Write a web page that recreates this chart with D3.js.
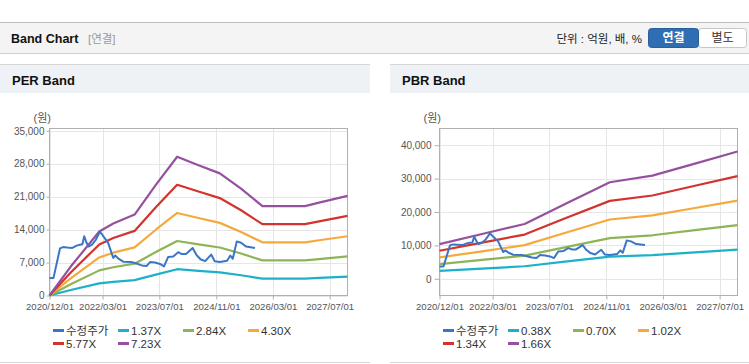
<!DOCTYPE html>
<html>
<head>
<meta charset="utf-8">
<script src="https://cdn.jsdelivr.net/npm/d3@7"></script>
<style>
body { margin: 0; background: #fff; }
svg text { font-family: "Liberation Sans", "Noto Sans CJK KR", sans-serif; }
</style>
</head>
<body>
<svg id="chart" width="749" height="364"></svg>
<script>
// adjusted share price (수정주가), same series in both charts
var priceDates = ["2020-12-01","2021-01-04","2021-03-01","2021-03-28","2021-05-01","2021-06-15","2021-07-22",
  "2021-08-18","2021-09-09","2021-09-25","2021-10-15","2021-11-01","2021-12-01","2022-01-01","2022-02-07",
  "2022-03-10","2022-04-18","2022-05-15","2022-06-01","2022-06-18","2022-07-12","2022-08-25","2022-11-07",
  "2022-12-04","2023-02-01","2023-03-13","2023-04-12","2023-05-25","2023-07-07","2023-08-10","2023-09-15",
  "2023-10-28","2023-12-10","2024-01-10","2024-02-15","2024-04-12","2024-05-15","2024-06-18","2024-07-28",
  "2024-09-18","2024-10-18","2024-12-01","2025-02-01","2025-03-01","2025-03-22","2025-04-25","2025-06-01",
  "2025-07-15","2025-09-28"]
var priceValues = [3700,3700,10000,10300,10200,10100,10600,
  10800,10900,12600,11200,10400,10800,11800,13600,
  12500,11200,9200,8000,8500,7900,7200,7100,
  6900,6400,6250,7100,7000,6700,6200,8200,
  8300,9200,8800,8800,10100,8600,7700,7300,
  8700,7300,7100,7400,8500,7800,11500,11200,
  10400,10100]

// PER band
var perDates = ["2020-12-01","2021-06-01","2022-02-01","2022-06-01","2022-12-01","2023-06-01","2023-12-01",
  "2024-06-01","2024-12-01","2025-06-01","2025-12-01","2026-12-01","2027-04-01","2027-12-01"]
var perLabels = ["1.37X","2.84X","4.30X","5.77X","7.23X"]
var per137 = [0,1170,2580,2900,3260,4450,5590,5250,4920,4300,3600,3600,3740,4010]
var per284 = [0,2410,5340,6010,6760,9230,11590,10880,10200,8920,7460,7460,7750,8320]
var per430 = [0,3660,8090,9100,10230,13980,17540,16470,15440,13500,11300,11300,11740,12600]
var per577 = [0,4900,10850,12210,13730,18750,23540,22100,20710,18120,15160,15160,15750,16910]
var per723 = [0,6150,13600,15300,17200,23500,29500,27690,25960,22700,19000,19000,19740,21180]
var perTicks = [0,7000,14000,21000,28000,35000]

// PBR band
var pbrDates = ["2020-12-01","2021-12-01","2022-12-01","2023-12-01","2024-12-01","2025-12-01","2026-12-01","2027-12-01"]
var pbrLabels = ["0.38X","0.70X","1.02X","1.34X","1.66X"]
var pbr038 = [2380,3070,3750,5200,6620,7070,7900,8720]
var pbr070 = [4390,5650,6920,9570,12190,13030,14550,16070]
var pbr102 = [6390,8230,10080,13950,17760,18990,21200,23410]
var pbr134 = [8400,10820,13240,18330,23330,24940,27850,30750]
var pbr166 = [10400,13400,16400,22700,28900,30900,34500,38100]
var pbrTicks = [0,10000,20000,30000,40000]

var xTickDates = ["2020-12-01","2022-03-01","2023-07-01","2024-11-01","2026-03-01","2027-07-01"]
var priceLabel = "수정주가"
var colors = ["#3b76c6","#1db1c9","#8db456","#f4aa3b","#d2332e","#95519d"]

var parse = d3.timeParse("%Y-%m-%d")
var fmtDate = d3.timeFormat("%Y/%m/%d")
var svg = d3.select("#chart")

// top bar
svg.append("rect").attr("x", 0).attr("y", 22).attr("width", 749).attr("height", 31).attr("fill", "#f4f4f4")
svg.append("line").attr("x1", 0).attr("x2", 749).attr("y1", 22.5).attr("y2", 22.5).attr("stroke", "#bdbdbd")
svg.append("line").attr("x1", 0).attr("x2", 749).attr("y1", 53.5).attr("y2", 53.5).attr("stroke", "#cfcfcf")
svg.append("text").attr("x", 11).attr("y", 43).attr("font-size", 12.5).attr("font-weight", "bold")
  .attr("fill", "#111").text("Band Chart")
svg.append("text").attr("x", 88).attr("y", 43).attr("font-size", 11.5).attr("fill", "#999").text("[연결]")
svg.append("text").attr("x", 642).attr("y", 43).attr("font-size", 11.5).attr("fill", "#222")
  .attr("text-anchor", "end").text("단위 : 억원, 배, %")
svg.append("rect").attr("x", 698.5).attr("y", 28.5).attr("width", 48).attr("height", 19).attr("rx", 3)
  .attr("fill", "#fff").attr("stroke", "#c6c6c6")
svg.append("rect").attr("x", 648.5).attr("y", 28.5).attr("width", 50).attr("height", 19).attr("rx", 3)
  .attr("fill", "#2f6eb3").attr("stroke", "#295f9b")
svg.append("text").attr("x", 673.5).attr("y", 42).attr("font-size", 12).attr("font-weight", "bold")
  .attr("fill", "#fff").attr("text-anchor", "middle").text("연결")
svg.append("text").attr("x", 722.5).attr("y", 42).attr("font-size", 12)
  .attr("fill", "#333").attr("text-anchor", "middle").text("별도")

function drawBand(panel) {
  var g = svg.append("g")

  // panel frame
  g.append("rect").attr("x", panel.px).attr("y", 64).attr("width", panel.pw).attr("height", 29).attr("fill", "#eef1f6")
  g.append("line").attr("x1", panel.px).attr("x2", panel.px + panel.pw).attr("y1", 64.5).attr("y2", 64.5).attr("stroke", "#d6d6d6")
  g.append("line").attr("x1", panel.px).attr("x2", panel.px + panel.pw).attr("y1", 362.5).attr("y2", 362.5).attr("stroke", "#d6d6d6")
  g.append("text").attr("x", panel.px + 12).attr("y", 85).attr("font-size", 13).attr("font-weight", "bold")
    .attr("fill", "#111").text(panel.title)

  var x = d3.scaleTime().domain([parse("2020-12-01"), parse("2027-12-01")]).range([panel.left, panel.left + 298])
  var y = d3.scaleLinear().domain(panel.yDomain).range([295.5, 128.5])

  // grid
  g.append("g").selectAll("line").data(panel.yTicks).join("line")
    .attr("x1", x.range()[0]).attr("x2", x.range()[1])
    .attr("y1", function(d){ return Math.round(y(d)) + 0.5 }).attr("y2", function(d){ return Math.round(y(d)) + 0.5 })
    .attr("stroke", "#e6e6e6")
  g.append("g").selectAll("line").data(xTickDates).join("line")
    .attr("x1", function(d){ return Math.round(x(parse(d))) + 0.5 }).attr("x2", function(d){ return Math.round(x(parse(d))) + 0.5 })
    .attr("y1", y.range()[1]).attr("y2", y.range()[0])
    .attr("stroke", "#e6e6e6")

  // axes
  var yAxis = g.append("g").attr("transform", "translate(" + panel.left + ",0)")
    .call(d3.axisLeft(y).tickValues(panel.yTicks).tickSize(panel.tick).tickPadding(panel.pad).tickFormat(d3.format(",")))
  var xAxis = g.append("g").attr("transform", "translate(0,295.5)")
    .call(d3.axisBottom(x).tickValues(xTickDates.map(parse)).tickSize(4).tickPadding(4).tickFormat(fmtDate))
  yAxis.select(".domain").remove()
  xAxis.select(".domain").remove()
  yAxis.selectAll("line").attr("stroke", "#b0b0b0")
  xAxis.selectAll("line").attr("stroke", "#b0b0b0")
  yAxis.selectAll("text").attr("font-size", 10).attr("fill", "#555")
  xAxis.selectAll("text").attr("font-size", 9.6).attr("fill", "#555")

  g.append("rect").attr("x", panel.left).attr("y", 128.5).attr("width", 298).attr("height", 167)
    .attr("fill", "none").attr("stroke", "#b0b0b0")
  g.append("text").attr("x", panel.left - 16).attr("y", 122).attr("font-size", 11)
    .attr("fill", "#555").text("(원)")

  // lines
  var line = d3.line()
    .x(function(d){ return x(d[0]) })
    .y(function(d){ return y(d[1]) })

  panel.bands.forEach(function(vals, i) {
    g.append("path")
      .attr("d", line(panel.dates.map(function(d, j){ return [parse(d), vals[j]] })))
      .attr("fill", "none").attr("stroke", colors[i + 1]).attr("stroke-width", 2.2)
      .attr("stroke-linejoin", "round")
  })
  g.append("path")
    .attr("d", line(priceDates.map(function(d, j){ return [parse(d), priceValues[j]] })))
    .attr("fill", "none").attr("stroke", colors[0]).attr("stroke-width", 2)
    .attr("stroke-linejoin", "round")

  // legend
  var names = [priceLabel].concat(panel.labels)
  var items = g.append("g").selectAll("g").data(names).join("g")
    .attr("transform", function(d, i){
      return "translate(" + (panel.left + 3.5 + (i % 4) * 65) + "," + (330.5 + Math.floor(i / 4) * 13) + ")"
    })
  items.append("rect").attr("x", 0).attr("y", -1.5).attr("width", 11).attr("height", 3)
    .attr("fill", function(d, i){ return colors[i] })
  items.append("text").attr("x", 13).attr("y", 4.5).attr("font-size", 11.5).attr("fill", "#333")
    .text(function(d){ return d })
}

drawBand({title: "PER Band", px: 0, pw: 370, left: 49.5, yDomain: [0, 35500], yTicks: perTicks, tick: 3, pad: 2,
  dates: perDates, labels: perLabels, bands: [per137, per284, per430, per577, per723]})
drawBand({title: "PBR Band", px: 390, pw: 359, left: 439.5, yDomain: [-5000, 45000], yTicks: pbrTicks, tick: 5, pad: 3,
  dates: pbrDates, labels: pbrLabels, bands: [pbr038, pbr070, pbr102, pbr134, pbr166]})
</script>
</body>
</html>
